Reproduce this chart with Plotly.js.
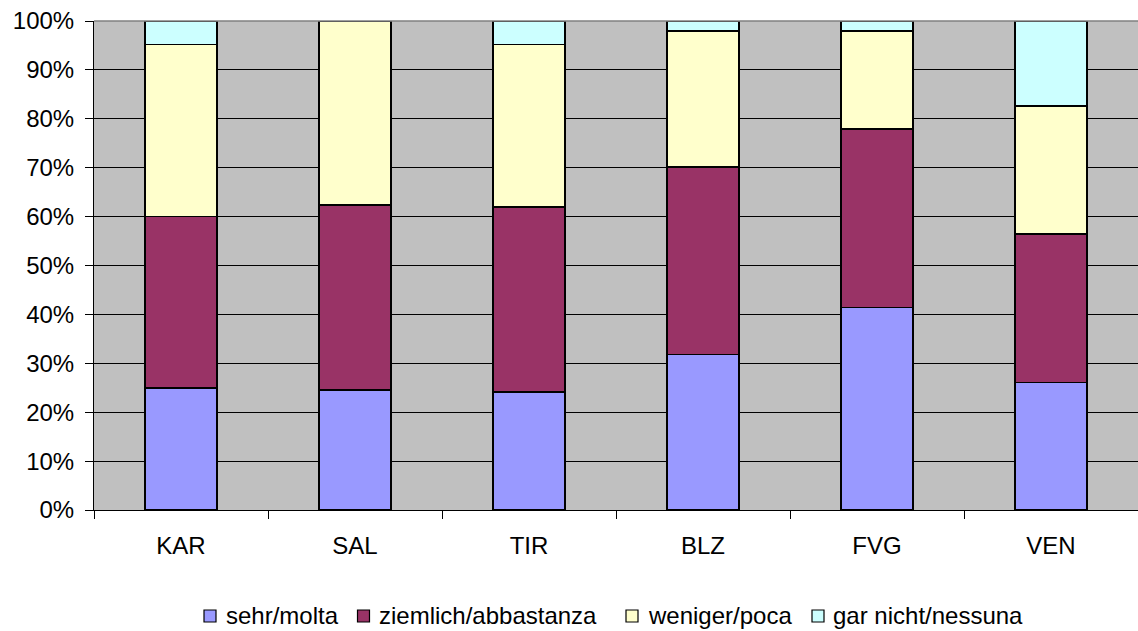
<!DOCTYPE html>
<html>
<head>
<meta charset="utf-8">
<script src="https://cdn.plot.ly/plotly-3.0.1.min.js"></script>
<style>html,body{margin:0;padding:0;background:#fff;}#chart{width:1138px;height:631px;}</style>
</head>
<body>
<div id="chart"></div>
<script>
const categories = ["KAR", "SAL", "TIR", "BLZ", "FVG", "VEN"];
const seriesNames = ["sehr/molta", "ziemlich/abbastanza", "weniger/poca", "gar nicht/nessuna"];
const sehr = [25.0, 24.5, 24.1, 31.8, 41.4, 26.1];
const ziemlich = [35.0, 37.9, 37.9, 38.3, 36.5, 30.3];
const weniger = [35.2, 37.6, 33.2, 27.9, 20.1, 26.2];
const garNicht = [4.8, 0.0, 4.8, 2.0, 2.0, 17.4];
const colors = ["#9999FF", "#993366", "#FFFFCC", "#CCFFFF"];
const values = [sehr, ziemlich, weniger, garNicht];

const traces = values.map((v, i) => ({
  type: "bar",
  x: categories,
  y: v,
  name: seriesNames[i],
  marker: {color: colors[i], line: {color: "#000000", width: 1.5}},
  hoverinfo: "none"
}));

// manual legend (pixel layout of the plot area: left 94, width 1044, bottom 510, height 489)
const L = 94, W = 1044, B = 510, H = 489;
const px = x => (x - L) / W;
const py = y => (B - y) / H;
const legendMarkerX = [210, 363.5, 632, 818];
const legendTextX = [224, 377, 646, 831];
const legendY = 615;

const shapes = [{type: "line", xref: "paper", yref: "paper", x0: 0, x1: 1, y0: 1, y1: 1, line: {color: "#808080", width: 1.5}}];
const annotations = [];
seriesNames.forEach((name, i) => {
  shapes.push({type: "rect", xref: "paper", yref: "paper", xsizemode: "pixel", ysizemode: "pixel",
    xanchor: px(legendMarkerX[i]), yanchor: py(legendY + 1), x0: -6, x1: 6, y0: -6, y1: 6,
    fillcolor: colors[i], line: {color: "#000", width: 1.2}});
  annotations.push({xref: "paper", yref: "paper", x: px(legendTextX[i]), y: py(legendY), xanchor: "left", yanchor: "middle",
    text: name, showarrow: false, font: {size: 24, color: "#000"}});
});

const layout = {
  width: 1138, height: 631,
  margin: {l: 94, r: 0, t: 21, b: 121},
  barmode: "stack",
  bargap: 0.588,
  paper_bgcolor: "#FFFFFF",
  plot_bgcolor: "#C0C0C0",
  font: {family: "Liberation Sans, Arial, sans-serif", size: 24, color: "#000"},
  showlegend: false,
  xaxis: {type: "category", tickson: "boundaries", ticks: "outside", ticklen: 8, tickcolor: "#000",
          showline: true, linecolor: "#000", linewidth: 1, showgrid: false, zeroline: false,
          tickfont: {size: 24}, ticklabelstandoff: 14, fixedrange: true},
  yaxis: {range: [0, 100], dtick: 10, ticksuffix: "%", ticks: "outside", ticklen: 8, tickcolor: "#000",
          showline: true, linecolor: "#000", linewidth: 1, showgrid: true, gridcolor: "#000", gridwidth: 1,
          zeroline: false, tickfont: {size: 24}, ticklabelstandoff: 6, fixedrange: true},
  shapes: shapes,
  annotations: annotations
};

Plotly.newPlot("chart", traces, layout, {staticPlot: true, displayModeBar: false});
</script>
</body>
</html>
